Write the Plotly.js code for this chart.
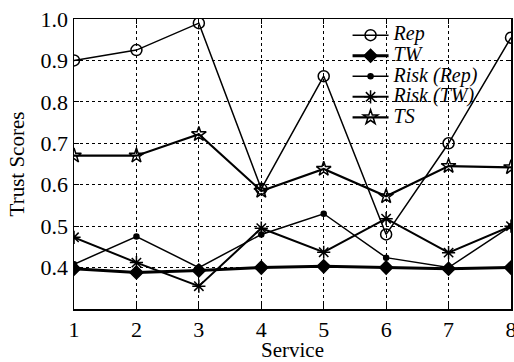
<!DOCTYPE html>
<html>
<head>
<meta charset="utf-8">
<script src="https://cdn.plot.ly/plotly-3.0.1.min.js"></script>
<style>html,body{margin:0;padding:0;background:#fff;}#chart{width:514px;height:362px;}</style>
</head>
<body>
<div id="chart"></div>
<script>
const services = [1, 2, 3, 4, 5, 6, 7, 8];
const rep     = [0.90, 0.925, 0.99, 0.59, 0.862, 0.48, 0.70, 0.955];
const tw      = [0.397, 0.388, 0.393, 0.40, 0.403, 0.40, 0.397, 0.40];
const riskRep = [0.408, 0.475, 0.40, 0.48, 0.53, 0.424, 0.40, 0.50];
const riskTW  = [0.473, 0.412, 0.355, 0.495, 0.437, 0.518, 0.436, 0.50];
const ts      = [0.67, 0.67, 0.722, 0.585, 0.638, 0.572, 0.645, 0.642];
const yTicks  = [0.4, 0.5, 0.6, 0.7, 0.8, 0.9, 1.0];
const names   = ['Rep', 'TW', 'Risk (Rep)', 'Risk (TW)', 'TS'];

const black = '#000';
const serif = 'Liberation Serif';
function tr(y, name, sym, size, lw) {
  return {
    x: services, y: y, type: 'scatter', mode: 'lines+markers',
    name: '<span style="font-size:20px"><i>' + name + '</i></span>',
    line: {color: black, width: lw},
    marker: {symbol: sym, size: size, color: black, line: {color: black, width: 1.5}}
  };
}
const data = [
  tr(rep, names[0], 'circle-open', 11, 1.5),
  tr(tw, names[1], 'diamond', 10, 3),
  tr(riskRep, names[2], 'circle', 5, 1.5),
  tr(riskTW, names[3], 'asterisk-open', 11, 2),
  tr(ts, names[4], 'star-open', 11, 2.2)
];
const axisFont = {family: serif, size: 22, color: black};
const layout = {
  width: 514, height: 362,
  margin: {l: 74, r: 3, t: 19, b: 53},
  paper_bgcolor: '#fff', plot_bgcolor: '#fff',
  font: axisFont,
  showlegend: true,
  legend: {x: 0.626, y: 0.997, xanchor: 'left', yanchor: 'top', bgcolor: 'rgba(0,0,0,0)',
           font: {family: serif, size: 13.5, color: black},
           tracegroupgap: 0, itemwidth: 36},
  xaxis: {
    range: [1, 8], tickvals: services, ticktext: services.map(String),
    showline: true, mirror: 'ticks', linecolor: black, linewidth: 1.5,
    ticks: 'inside', ticklen: 5, tickcolor: black,
    showgrid: true, gridcolor: black, griddash: 'dot', gridwidth: 1,
    zeroline: false, tickfont: axisFont, ticklabeloverflow: 'allow',
    title: {text: 'Service', font: {family: serif, size: 21, color: black}, standoff: 0}
  },
  yaxis: {
    range: [0.3, 1.0], tickvals: yTicks, tickformat: '.1f',
    showline: true, mirror: 'ticks', linecolor: black, linewidth: 1.5,
    ticks: 'inside', ticklen: 5, tickcolor: black,
    showgrid: true, gridcolor: black, griddash: 'dot', gridwidth: 1,
    zeroline: false, tickfont: axisFont,
    title: {text: 'Trust Scores', font: {family: serif, size: 21, color: black}, standoff: 10}
  }
};
Plotly.newPlot('chart', data, layout, {displayModeBar: false, staticPlot: true});
</script>
</body>
</html>
